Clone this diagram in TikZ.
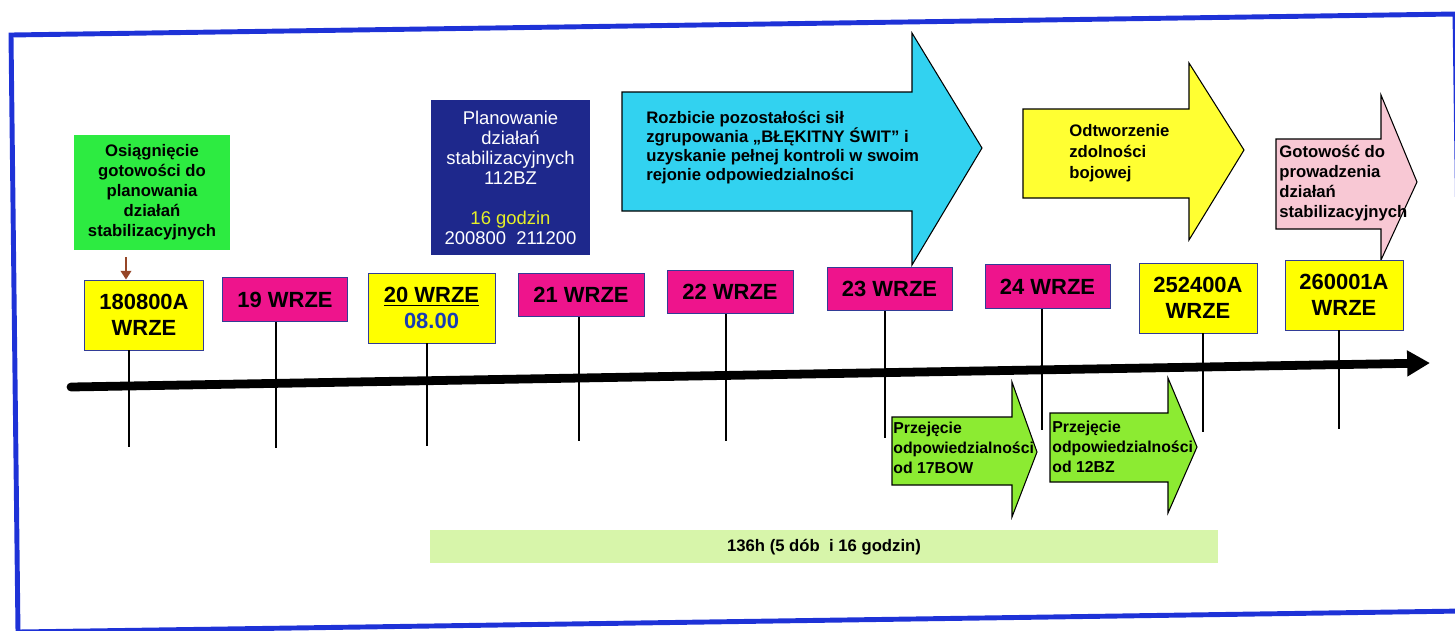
\documentclass[tikz,border=0pt]{standalone}
\usepackage{fontspec}
\setmainfont{Liberation Sans}
\usepackage{tikz}
\usetikzlibrary{arrows.meta, positioning}

\definecolor{framebl}{RGB}{30,50,215}
\definecolor{boxedge}{RGB}{50,60,150}
\definecolor{dayred}{RGB}{238,20,140}
\definecolor{dayyel}{RGB}{255,255,0}
\definecolor{grnbox}{RGB}{45,235,65}
\definecolor{navybox}{RGB}{30,40,140}
\definecolor{godzin}{RGB}{230,240,40}
\definecolor{cyanarr}{RGB}{50,210,240}
\definecolor{yelarr}{RGB}{255,255,50}
\definecolor{pinkarr}{RGB}{248,200,212}
\definecolor{grnarr}{RGB}{140,235,50}
\definecolor{barcol}{RGB}{215,245,170}
\definecolor{brownarr}{RGB}{150,70,40}
\definecolor{hourblue}{RGB}{25,60,180}

\begin{document}
\begin{tikzpicture}[x=0.02cm, y=-0.02cm, >=latex,
  day/.style={draw=boxedge, line width=0.5pt, inner sep=0pt, align=center,
    font=\fontsize{12.5}{14.8}\selectfont\bfseries},
  pinkday/.style={day, fill=dayred, minimum height=0.87cm},
  yelday/.style={day, fill=dayyel, minimum height=1.4cm},
  tick/.style={line width=0.8pt},
  bigarrow/.style={draw=black, line width=0.6pt},
  lbl/.style={anchor=west, align=left, inner sep=0pt,
    font=\fontsize{9.5}{11.4}\selectfont\bfseries}]
  \useasboundingbox (0,0) rectangle (1455,630);
  \draw [framebl, line width=2.8pt] (18,632) -- (11,35) -- (1455,14) -- (1463,611) -- cycle;

  \fill [barcol] (430,530) rectangle (1218,563);
  \node (okres) at (824,547) [font=\fontsize{9.5}{11}\selectfont\bfseries] {136h (5 dób~~i 16 godzin)};

  \node (grn) at (152,192.5) [fill=grnbox, minimum width=3.12cm, minimum height=2.3cm, align=center,
    font=\fontsize{9.5}{11.4}\selectfont\bfseries]
    {Osiągnięcie\\gotowości do\\planowania\\działań\\stabilizacyjnych};
  \node (plan) at (510.5,177.5) [fill=navybox, text=white, minimum width=3.18cm, minimum height=3.1cm,
    align=center, font=\fontsize{10.5}{11.4}\selectfont]
    {Planowanie\\działań\\stabilizacyjnych\\112BZ\\[11.4pt]\textcolor{godzin}{16 godzin}\\200800~~211200};

  \draw [bigarrow, fill=cyanarr] (622,92) -- (912,92) -- (912,33) -- (982,148) -- (912,265) -- (912,211) -- (622,211) -- cycle;
  \node (rozb) at (646,147.5) [lbl, font=\fontsize{9.5}{10.8}\selectfont\bfseries]
    {Rozbicie pozostałości sił\\zgrupowania „BŁĘKITNY ŚWIT” i\\uzyskanie pełnej kontroli w swoim\\rejonie odpowiedzialności};
  \draw [bigarrow, fill=yelarr] (1023,109) -- (1189,109) -- (1189,63) -- (1244,150) -- (1189,240) -- (1189,198) -- (1023,198) -- cycle;
  \node (odtw) at (1069,153.5) [lbl, font=\fontsize{9.5}{12}\selectfont\bfseries] {Odtworzenie\\zdolności\\bojowej};
  \draw [bigarrow, fill=pinkarr] (1276,139) -- (1381,139) -- (1381,95) -- (1417,182) -- (1381,260) -- (1381,229) -- (1276,229) -- cycle;
  \node (gotow) at (1279,183) [lbl] {Gotowość do\\prowadzenia\\działań\\stabilizacyjnych};

  \node (b18) at (144,315) [yelday, minimum width=2.37cm] {180800A\\WRZE};
  \node (b19) at (285,299.5) [pinkday, minimum width=2.49cm] {19 WRZE};
  \node (b20) at (431.5,308) [yelday, minimum width=2.54cm] {\underline{20 WRZE}\\\textcolor{hourblue}{08.00}};
  \node (b21) at (581,295) [pinkday, minimum width=2.52cm] {21 WRZE};
  \node (b22) at (730,292) [pinkday, minimum width=2.52cm] {22 WRZE};
  \node (b23) at (889.5,289) [pinkday, minimum width=2.5cm] {23 WRZE};
  \node (b24) at (1047.5,286.5) [pinkday, minimum width=2.5cm] {24 WRZE};
  \node (b25) at (1198,298) [yelday, minimum width=2.36cm] {252400A\\WRZE};
  \node (b26) at (1344,295) [yelday, minimum width=2.36cm] {260001A\\WRZE};

  \coordinate (ba) at (126,257);
  \draw [brownarr, line width=1.2pt, -{Triangle[length=5pt,width=6pt]}] (ba) -- (b18.north -| ba);

  \coordinate (t18) at (129,447);
  \coordinate (t19) at (276,448);
  \coordinate (t20) at (427,446);
  \coordinate (t21) at (579,441);
  \coordinate (t22) at (726,441);
  \coordinate (t23) at (885,438);
  \coordinate (t24) at (1042,430);
  \coordinate (t25) at (1203,432);
  \coordinate (t26) at (1339,429);
  \draw [tick] (b18.south -| t18) -- (t18);
  \draw [tick] (b19.south -| t19) -- (t19);
  \draw [tick] (b20.south -| t20) -- (t20);
  \draw [tick] (b21.south -| t21) -- (t21);
  \draw [tick] (b22.south -| t22) -- (t22);
  \draw [tick] (b23.south -| t23) -- (t23);
  \draw [tick] (b24.south -| t24) -- (t24);
  \draw [tick] (b25.south -| t25) -- (t25);
  \draw [tick] (b26.south -| t26) -- (t26);

  \coordinate (tl0) at (71,387);
  \coordinate (tl1) at (1430,363);
  \draw [line width=5pt, line cap=round, -{Triangle[length=13pt,width=14pt]}] (tl0) -- (tl1);

  \draw [bigarrow, fill=grnarr] (892,417) -- (1012,417) -- (1012,382) -- (1037,452) -- (1012,517) -- (1012,485) -- (892,485) -- cycle;
  \node (prz1) at (893,448) [lbl, font=\fontsize{9}{11.4}\selectfont\bfseries] {Przejęcie\\odpowiedzialności\\od 17BOW};
  \draw [bigarrow, fill=grnarr] (1050,413) -- (1168,413) -- (1168,378) -- (1197,447) -- (1168,513) -- (1168,482) -- (1050,482) -- cycle;
  \node (prz2) at (1052,447) [lbl, font=\fontsize{9}{11.4}\selectfont\bfseries] {Przejęcie\\odpowiedzialności\\od 12BZ};
\end{tikzpicture}
\end{document}
